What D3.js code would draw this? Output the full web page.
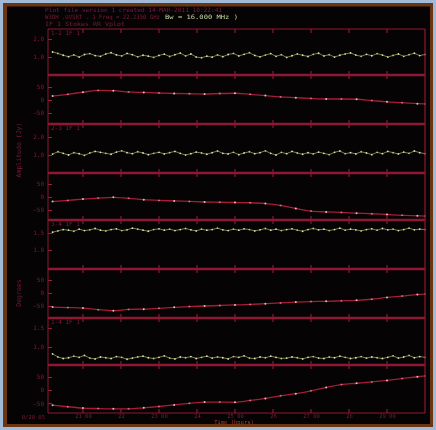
<!DOCTYPE html>
<html><head><meta charset="utf-8">
<script src="https://cdn.jsdelivr.net/npm/d3@7"></script>
<style>
html,body{margin:0;padding:0;background:#a0bad7;}
svg{display:block;filter:blur(0.45px);}
</style></head>
<body>
<svg id="c" width="436" height="430"></svg>
<script>
// ---------- data ----------
const ampTimes = [20.20,20.34,20.48,20.62,20.76,20.90,21.04,21.18,21.32,21.46,
21.60,21.74,21.88,22.02,22.16,22.30,22.44,22.58,22.72,22.86,
23.00,23.14,23.28,23.42,23.56,23.70,23.84,23.98,24.12,24.26,
24.40,24.54,24.68,24.82,24.96,25.10,25.24,25.38,25.52,25.66,
25.80,25.94,26.08,26.22,26.36,26.50,26.64,26.78,26.92,27.06,
27.20,27.34,27.48,27.62,27.76,27.90,28.04,28.18,28.32,28.46,
28.60,28.74,28.88,29.02,29.16,29.30,29.44,29.58,29.72,29.86,30.00];

const amp1 = [1.28,1.20,1.10,1.02,1.12,1.00,1.14,1.19,1.08,1.04,
1.17,1.24,1.12,1.06,1.20,1.13,1.01,1.10,1.05,0.98,
1.09,1.16,1.03,1.13,1.22,1.06,1.17,1.00,0.96,1.05,
0.99,1.12,1.02,1.14,1.20,1.06,1.15,1.24,1.09,1.01,
1.11,1.19,1.04,1.13,0.98,1.07,1.17,1.10,1.03,1.15,
1.21,1.06,1.13,1.00,1.10,1.17,1.23,1.11,1.04,1.15,
1.07,1.19,1.11,1.00,1.09,1.17,1.04,1.13,1.21,1.08,1.14];

const amp3 = [1.05,1.18,1.09,1.00,1.13,1.07,0.98,1.11,1.20,1.15,
1.09,1.04,1.16,1.23,1.13,1.07,1.18,1.11,1.02,1.09,
1.15,1.06,1.13,1.20,1.09,1.00,1.07,1.16,1.11,1.04,
1.13,1.22,1.09,1.06,1.15,1.02,1.11,1.18,1.07,1.13,
1.23,1.09,1.00,1.15,1.07,1.20,1.11,1.04,1.13,1.06,
1.16,1.09,1.02,1.15,1.22,1.07,1.13,1.06,1.18,1.11,
1.02,1.15,1.07,1.20,1.13,1.06,1.16,1.09,1.22,1.13,1.07];

const amp5 = [1.52,1.56,1.60,1.58,1.55,1.61,1.57,1.59,1.63,1.58,
1.56,1.60,1.62,1.57,1.59,1.64,1.61,1.58,1.55,1.60,
1.62,1.58,1.61,1.57,1.60,1.63,1.59,1.56,1.61,1.58,
1.60,1.64,1.59,1.57,1.61,1.58,1.62,1.60,1.56,1.59,
1.63,1.58,1.61,1.57,1.60,1.62,1.58,1.55,1.60,1.63,
1.59,1.61,1.57,1.60,1.64,1.58,1.61,1.59,1.56,1.60,
1.62,1.58,1.63,1.59,1.61,1.57,1.60,1.64,1.59,1.61,1.60];

const amp7 = [0.82,0.74,0.70,0.72,0.76,0.73,0.78,0.71,0.69,0.74,
0.72,0.70,0.75,0.73,0.68,0.71,0.74,0.76,0.72,0.70,
0.73,0.77,0.71,0.69,0.74,0.72,0.75,0.70,0.73,0.76,
0.71,0.74,0.72,0.69,0.75,0.73,0.77,0.71,0.70,0.74,
0.72,0.76,0.73,0.70,0.71,0.74,0.72,0.69,0.73,0.75,
0.71,0.70,0.74,0.72,0.76,0.73,0.70,0.72,0.75,0.71,
0.74,0.72,0.70,0.73,0.77,0.71,0.74,0.78,0.72,0.75,0.73];

const phaseTimes = [20.2,20.6,21.0,21.4,21.8,22.2,22.6,23.0,23.4,23.8,24.2,24.6,25.0,
25.4,25.8,26.2,26.6,27.0,27.4,27.8,28.2,28.6,29.0,29.4,29.8,30.0];
const phase2 = [15,22,30,37,36,31,29,27,25,24,23,25,26,22,17,12,9,6,4,4,3,-2,-7,-10,-14,-15];
const phase4 = [-17,-13,-8,-4,-1,-5,-10,-13,-15,-17,-19,-20,-21,-22,-25,-32,-44,-54,-57,-59,-62,-64,-67,-70,-72,-73];
const phase6 = [-54,-56,-58,-64,-68,-63,-62,-59,-55,-52,-50,-48,-46,-44,-41,-38,-35,-33,-32,-30,-28,-24,-17,-12,-6,-4];
const phase8 = [-58,-64,-69,-71,-72,-72,-68,-63,-57,-51,-46,-46,-47,-40,-32,-22,-14,-3,10,21,26,31,37,44,51,54];

const timeTicks = [21,22,23,24,25,26,27,28,29];
const timeTickLabels = ["21 00","22","23 00","24","25 00","26","27 00","28","29 00"];
const ampTicks1 = [1,2], ampTicks3 = [1,2], ampTicks5 = [1.0,1.5], ampTicks7 = [1.0,1.5];
const phaseTicks = [-50,0,50];
const panelLabels = ["1-2  IF 1","","2-3  IF 1","","3-4  IF 1","","1-4  IF 1",""];
const headerLines = ["Plot file version 1  created 14-MAR-2011 10:22:41",
  "W3OH  .UVSRT .  1  Freq = 22.2350 GHz",
  "IF 1  Stokes RR  Vplot"];
const headerGreen = "Bw = 16.000 MHz )";

// ---------- layout ----------
const svg = d3.select("#c");
svg.append("rect").attr("x",3).attr("y",3).attr("width",430).attr("height",424).attr("fill","#6a3612");
svg.append("rect").attr("x",7).attr("y",6.5).attr("width",423).attr("height",417.5).attr("fill","#050304");

const L = 48, R = 425;
const x = d3.scaleLinear().domain([20.08, 30.0]).range([L, R]);
const edges = [29, 75, 124, 173, 220, 269, 318, 365, 413];

const RED = "#8e1834", RED2 = "#a81e3c", TXT = "#7e1c3a";
const MONO = "DejaVu Sans Mono";

const panels = [
  {type:"amp", vals:amp1, dom:[0,2.56], ticks:ampTicks1, fmt:d3.format(".1f")},
  {type:"ph",  vals:phase2, dom:[-92,96], ticks:phaseTicks},
  {type:"amp", vals:amp3, dom:[0,2.72], ticks:ampTicks3, fmt:d3.format(".1f")},
  {type:"ph",  vals:phase4, dom:[-88,92], ticks:phaseTicks},
  {type:"amp", vals:amp5, dom:[0.44,1.88], ticks:ampTicks5, fmt:d3.format(".1f")},
  {type:"ph",  vals:phase6, dom:[-96,92], ticks:phaseTicks},
  {type:"amp", vals:amp7, dom:[0.53,1.76], ticks:ampTicks7, fmt:d3.format(".1f")},
  {type:"ph",  vals:phase8, dom:[-88,96], ticks:phaseTicks}
];

panels.forEach((p,i) => {
  const top = edges[i], bot = edges[i+1];
  const y = d3.scaleLinear().domain(p.dom).range([bot, top]);
  const g = svg.append("g");
  const ya = d3.axisLeft(y).tickValues(p.ticks).tickSize(-4)
     .tickFormat(p.fmt ? p.fmt : d3.format("d"));
  const yg = g.append("g").attr("transform",`translate(${L},0)`).call(ya);
  yg.select(".domain").remove();
  yg.selectAll("line").attr("stroke",RED2).attr("stroke-width",1);
  yg.selectAll("text").attr("fill",TXT).attr("font-size",6)
    .attr("font-family",MONO).attr("x",-4);
  timeTicks.forEach(t => {
    g.append("line").attr("x1",x(t)).attr("x2",x(t)).attr("y1",top).attr("y2",top+4)
      .attr("stroke",RED2).attr("stroke-width",1);
    g.append("line").attr("x1",x(t)).attr("x2",x(t)).attr("y1",bot-4).attr("y2",bot)
      .attr("stroke",RED2).attr("stroke-width",1);
  });
  if (p.type === "amp") {
    const line = d3.line().x((d,j)=>x(ampTimes[j])).y(d=>y(d));
    g.append("path").attr("d",line(p.vals)).attr("fill","none")
      .attr("stroke","#9aa860").attr("stroke-width",0.9).attr("opacity",0.85);
    g.selectAll("circle.a").data(p.vals).join("circle")
      .attr("cx",(d,j)=>x(ampTimes[j])).attr("cy",d=>y(d)).attr("r",0.9)
      .attr("fill",(d,j)=> j%3===1 ? "#b8c878" : "#d8e4a8");
  } else {
    const line = d3.line().x((d,j)=>x(phaseTimes[j])).y(d=>y(d)).curve(d3.curveMonotoneX);
    g.append("path").attr("d",line(p.vals)).attr("fill","none")
      .attr("stroke","#a81c38").attr("stroke-width",1.3);
    g.selectAll("circle.p").data(p.vals).join("circle")
      .attr("cx",(d,j)=>x(phaseTimes[j])).attr("cy",d=>y(d)).attr("r",1.0)
      .attr("fill","#e8d4cc").attr("opacity",(d,j)=> j%2===0 ? 0.9 : 0.5);
  }
  if (panelLabels[i]) {
    g.append("text").attr("x",51).attr("y",top+6).text(panelLabels[i])
      .attr("fill",TXT).attr("font-size",6).attr("font-family",MONO);
  }
});

svg.append("line").attr("x1",L).attr("x2",L).attr("y1",edges[0]).attr("y2",edges[8]).attr("stroke",RED).attr("stroke-width",1);
svg.append("line").attr("x1",R).attr("x2",R).attr("y1",edges[0]).attr("y2",edges[8]).attr("stroke",RED).attr("stroke-width",1.2);
edges.forEach((e,i) => {
  const interior = i>0 && i<edges.length-1;
  svg.append("line").attr("x1",L).attr("x2",R).attr("y1",e).attr("y2",e)
    .attr("stroke",RED).attr("stroke-width", interior ? 2.6 : 1.2);
});

// bottom time axis labels
const xa = d3.axisBottom(x).tickValues(timeTicks).tickSize(0).tickPadding(0)
  .tickFormat((d,i)=>timeTickLabels[i]);
const xg = svg.append("g").attr("transform",`translate(0,${edges[8]+1})`).call(xa);
xg.select(".domain").remove();
xg.selectAll("text").attr("fill",TXT).attr("font-size",5.5).attr("font-family",MONO).attr("dy","0.75em");
svg.append("text").attr("x",45).attr("y",419).attr("text-anchor","end").text("0/20 05")
  .attr("fill",TXT).attr("font-size",5.5).attr("font-family",MONO);
svg.append("text").attr("x",234).attr("y",424).attr("text-anchor","middle").text("Time (hours)")
  .attr("fill","#b83a28").attr("font-size",5.5).attr("font-family",MONO);

svg.append("text").attr("transform","translate(21,150) rotate(-90)").attr("text-anchor","middle")
  .text("Amplitude (Jy)").attr("fill",TXT).attr("font-size",6.5).attr("font-family",MONO);
svg.append("text").attr("transform","translate(21,293) rotate(-90)").attr("text-anchor","middle")
  .text("Degrees").attr("fill",TXT).attr("font-size",6.5).attr("font-family",MONO);

// header
svg.append("text").attr("x",45).attr("y",12).text(headerLines[0])
  .attr("textLength",177).attr("lengthAdjust","spacingAndGlyphs")
  .attr("fill",TXT).attr("font-size",6).attr("font-family",MONO);
svg.append("text").attr("x",45).attr("y",19).text(headerLines[1])
  .attr("textLength",115).attr("lengthAdjust","spacingAndGlyphs")
  .attr("fill",TXT).attr("font-size",6).attr("font-family",MONO);
svg.append("text").attr("x",165).attr("y",19).text(headerGreen)
  .attr("textLength",73).attr("lengthAdjust","spacingAndGlyphs")
  .attr("fill","#c8dca0").attr("font-size",6).attr("font-family",MONO);
svg.append("text").attr("x",45).attr("y",26).text(headerLines[2])
  .attr("textLength",80).attr("lengthAdjust","spacingAndGlyphs")
  .attr("fill",TXT).attr("font-size",6).attr("font-family",MONO);
</script>
</body></html>
